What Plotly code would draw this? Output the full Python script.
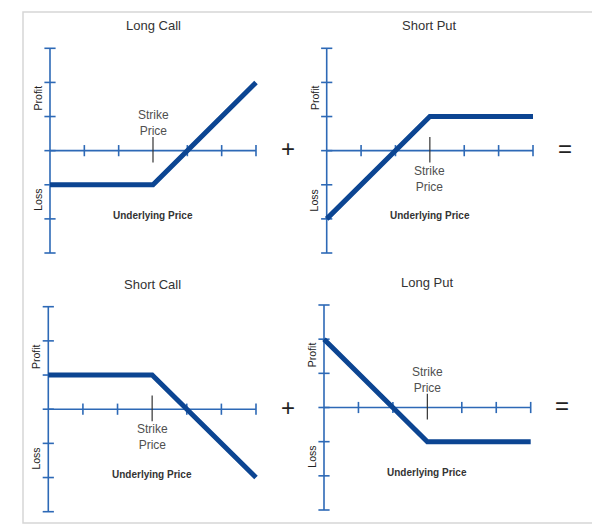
import plotly.graph_objects as go

# ---- data ----
underlying = [0, 3, 6]
long_call = [-1, -1, 2]
short_put = [-2, 1, 1]
short_call = [1, 1, -2]
long_put = [2, -1, -1]
y_ticks = [-3, -2, -1, 0, 1, 2, 3]
x_ticks = [1, 2, 4, 5, 6]
strike = 3
strike_tick = [0.4, -0.35]
titles = ["Long Call", "Short Put", "Short Call", "Long Put"]
payoffs = [long_call, short_put, short_call, long_put]
strike_label_y = [0.8, -0.82, -0.82, 0.8]
operators = ["+", "=", "+", "="]

OFF = 8  # page body margin
W, H = 600 - OFF, 529 - OFF
AXIS_BLUE = "#2d69b6"
NAVY = "#0c4592"
FONT = "Liberation Sans, Arial, sans-serif"

# pixel extents of each panel (screen px): (x at 0, x at 6, y px at +3, y px at -3)
panels_px = [
    (50.0, 256.0, 48.3, 253.0),
    (326.7, 533.0, 48.3, 253.0),
    (48.3, 256.0, 306.7, 511.7),
    (324.0, 530.7, 305.0, 510.0),
]
PAD = 0.25


def px_to_paper(px, py):
    return (px - OFF) / W, (H - (py - OFF)) / H


fig = go.Figure()
layout_axes = {}
annotations = []

for i, (px0, px6, pyt, pyb) in enumerate(panels_px):
    n = "" if i == 0 else str(i + 1)
    xa, ya = "x" + n, "y" + n
    ux = (px6 - px0) / 6.0
    uy = (pyb - pyt) / 6.0
    dx0, dy0 = px_to_paper(px0 - PAD * ux, pyb + PAD * uy)
    dx1, dy1 = px_to_paper(px6 + PAD * ux, pyt - PAD * uy)
    layout_axes["xaxis" + n] = dict(domain=[dx0, dx1], range=[-PAD, 6 + PAD], visible=False,
                                    fixedrange=True, anchor=ya)
    layout_axes["yaxis" + n] = dict(domain=[dy0, dy1], range=[-3 - PAD, 3 + PAD], visible=False,
                                    fixedrange=True, anchor=xa)

    def data_to_paper(xd, yd):
        return px_to_paper(px0 + xd * ux, pyt + (3 - yd) * uy)

    common = dict(xaxis=xa, yaxis=ya, showlegend=False, hoverinfo="skip", cliponaxis=False)
    # y axis line
    fig.add_trace(go.Scatter(x=[0, 0], y=[y_ticks[0], y_ticks[-1]], mode="lines",
                             line=dict(color=AXIS_BLUE, width=1.6), **common))
    # x axis line
    fig.add_trace(go.Scatter(x=[0, underlying[-1]], y=[0, 0], mode="lines",
                             line=dict(color=AXIS_BLUE, width=1.6), **common))
    # y ticks
    fig.add_trace(go.Scatter(x=[0] * len(y_ticks), y=y_ticks, mode="markers",
                             marker=dict(symbol="line-ew", size=8,
                                         line=dict(color=AXIS_BLUE, width=1.6)), **common))
    # x ticks
    fig.add_trace(go.Scatter(x=x_ticks, y=[0] * len(x_ticks), mode="markers",
                             marker=dict(symbol="line-ns", size=8,
                                         line=dict(color=AXIS_BLUE, width=1.6)), **common))
    # strike tick
    fig.add_trace(go.Scatter(x=[strike, strike], y=strike_tick, mode="lines",
                             line=dict(color="#333333", width=1.2), **common))
    # payoff
    fig.add_trace(go.Scatter(x=underlying, y=payoffs[i], mode="lines",
                             line=dict(color=NAVY, width=5), **common))

    def ann(text, xd, yd, size, color="#333333", bold=False, angle=0):
        x, y = data_to_paper(xd, yd)
        annotations.append(dict(
            text=("<b>%s</b>" % text) if bold else text, x=x, y=y, xref="paper", yref="paper",
            showarrow=False, textangle=angle, xanchor="center", yanchor="middle",
            font=dict(family=FONT, size=size, color=color)))

    ann(titles[i], 3.0, 3.66, 13, "#333333")
    ann("Profit", -0.36, 1.55, 10.5, "#222222", angle=-90)
    ann("Loss", -0.36, -1.45, 10.5, "#222222", angle=-90)
    ann("Underlying Price", 3.0, -1.9, 10, "#333333", bold=True)
    ann("Strike<br>Price", strike, strike_label_y[i], 12, "#505050")
    ann(operators[i], 6 + 31.5 / ux, 0.05, 24, "#222222")

# partially visible labels of the cut-off panel on the right edge
for yc_p, yc_l in [(100, 206), (353, 462)]:
    for text, yc in [("Profit", yc_p), ("Loss", yc_l)]:
        x, y = px_to_paper(603.5, yc)
        annotations.append(dict(text=text, x=x, y=y, xref="paper", yref="paper",
                                showarrow=False, textangle=-90, xanchor="center", yanchor="middle",
                                font=dict(family=FONT, size=10.5, color="#222222")))

fx0, fy1 = px_to_paper(23, 12)
fx1, fy0 = px_to_paper(640, 523)
fig.update_layout(
    width=W, height=H,
    margin=dict(l=0, r=0, t=0, b=0),
    paper_bgcolor="white", plot_bgcolor="white",
    annotations=annotations,
    shapes=[dict(type="rect", xref="paper", yref="paper",
                 x0=fx0, x1=fx1, y0=fy0, y1=fy1,
                 line=dict(color="#d6d6d6", width=1.5), layer="below")],
    **layout_axes,
)

fig.write_html("out.html", config={"displayModeBar": False})
